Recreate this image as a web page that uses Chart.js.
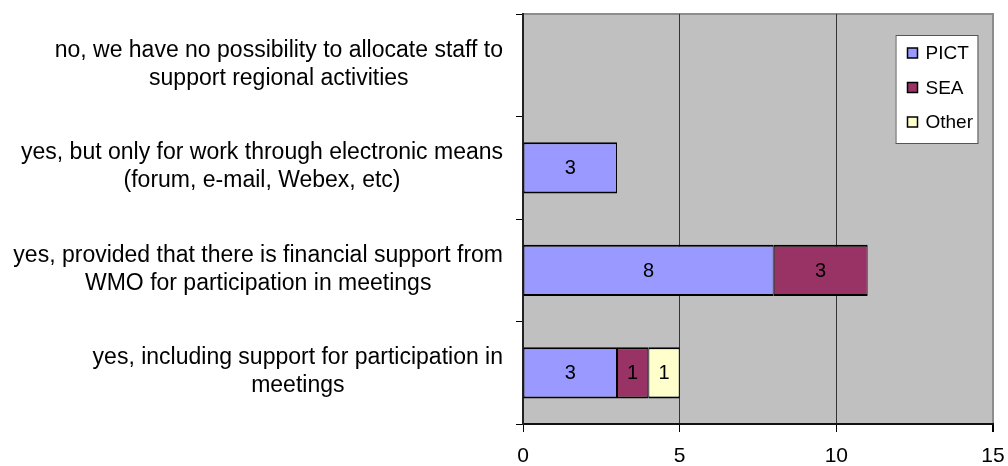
<!DOCTYPE html>
<html>
<head>
<meta charset="utf-8">
<script src="https://cdn.jsdelivr.net/npm/chart.js@4.4.1/dist/chart.umd.min.js"></script>
<style>
  body { margin: 0; background: #fff; }
  #wrap { width: 1008px; height: 466px; position: relative; }
</style>
</head>
<body>
<div id="wrap"><canvas id="staffChart"></canvas></div>
<script>
// survey answers, top to bottom
const categories = [
  ["no, we have no possibility to allocate staff to", "support regional activities"],
  ["yes, but only for work through electronic means", "(forum, e-mail, Webex, etc)"],
  ["yes, provided that there is financial support from", "WMO for participation in meetings"],
  ["yes, including support for participation in", "meetings"],
];
const pictValues = [0, 3, 8, 3];
const seaValues = [0, 0, 3, 1];
const otherValues = [0, 0, 0, 1];
const xTicks = [0, 5, 10, 15];

const FONT = '"Liberation Sans", Arial, sans-serif';

// grey plot area with a thin frame on top and right
const plotBg = {
  id: "plotBg",
  beforeDraw(chart) {
    const { ctx, chartArea: a } = chart;
    ctx.save();
    ctx.fillStyle = "#c0c0c0";
    ctx.fillRect(a.left, a.top, a.right - a.left, a.bottom - a.top);
    ctx.strokeStyle = "#8c8c8c";
    ctx.lineWidth = 2;
    ctx.beginPath();
    ctx.moveTo(a.left, a.top);
    ctx.lineTo(a.right, a.top);
    ctx.lineTo(a.right, a.bottom);
    ctx.stroke();
    ctx.restore();
  },
};

// category labels: block right aligned, lines centred inside the block
const catLabels = {
  id: "catLabels",
  afterDraw(chart) {
    const { ctx } = chart;
    const yScale = chart.scales.y;
    ctx.save();
    ctx.font = "23px " + FONT;
    ctx.fillStyle = "#000";
    ctx.textAlign = "center";
    ctx.textBaseline = "middle";
    const rightEdge = yScale.right - 20;
    const lh = 28;
    yScale.getLabels().forEach((lines, i) => {
      const y = yScale.getPixelForValue(i) - 1;
      const widest = Math.max(...lines.map((l) => ctx.measureText(l).width));
      const cx = rightEdge - widest / 2;
      lines.forEach((line, j) => {
        ctx.fillText(line, cx, y + (j - (lines.length - 1) / 2) * lh);
      });
    });
    ctx.restore();
  },
};

// values in the middle of each segment
const segLabels = {
  id: "segLabels",
  afterDatasetsDraw(chart) {
    const { ctx } = chart;
    ctx.save();
    ctx.font = "20px " + FONT;
    ctx.fillStyle = "#000";
    ctx.textAlign = "center";
    ctx.textBaseline = "middle";
    chart.data.datasets.forEach((ds, di) => {
      chart.getDatasetMeta(di).data.forEach((bar, i) => {
        const v = ds.data[i];
        if (!v) return;
        const { x, base, y } = bar.getProps(["x", "base", "y"], true);
        ctx.fillText(String(v), (x + base) / 2, y + 1);
      });
    });
    ctx.restore();
  },
};

// legend box inside the plot, top right
const boxLegend = {
  id: "boxLegend",
  afterDraw(chart) {
    const { ctx, chartArea: a } = chart;
    const left = a.right - 97.5;
    const top = a.top + 21;
    ctx.save();
    ctx.fillStyle = "#fff";
    ctx.fillRect(left, top, 82, 108);
    ctx.strokeStyle = "#555";
    ctx.lineWidth = 1;
    ctx.strokeRect(left + 0.5, top + 0.5, 82, 108);
    ctx.font = "19px " + FONT;
    ctx.textBaseline = "middle";
    ctx.textAlign = "left";
    chart.data.datasets.forEach((ds, i) => {
      const cy = top + 18 + i * 34.5;
      ctx.fillStyle = ds.backgroundColor;
      ctx.fillRect(left + 12, cy - 5, 10, 10);
      ctx.strokeStyle = "#000";
      ctx.lineWidth = 1.5;
      ctx.strokeRect(left + 12, cy - 5, 10, 10);
      ctx.fillStyle = "#000";
      ctx.fillText(ds.label, left + 30, cy + 1);
    });
    ctx.restore();
  },
};

new Chart(document.getElementById("staffChart"), {
  type: "bar",
  data: {
    labels: categories,
    datasets: [
      { label: "PICT", data: pictValues, backgroundColor: "#9999ff" },
      { label: "SEA", data: seaValues, backgroundColor: "#993366" },
      { label: "Other", data: otherValues, backgroundColor: "#ffffcc" },
    ],
  },
  options: {
    indexAxis: "y",
    responsive: true,
    maintainAspectRatio: false,
    animation: false,
    layout: { padding: { top: 14, right: 15, bottom: 0, left: 0 } },
    datasets: {
      bar: {
        borderColor: "#000",
        borderWidth: { top: 2, bottom: 2, left: 1, right: 1 },
        borderSkipped: false,
        categoryPercentage: 1,
        barPercentage: 0.5,
      },
    },
    plugins: {
      legend: { display: false },
      tooltip: { enabled: false },
    },
    scales: {
      x: {
        stacked: true,
        min: 0,
        max: 15,
        afterBuildTicks: (s) => {
          s.ticks = xTicks.map((v) => ({ value: v }));
        },
        afterFit: (s) => {
          s.height = 42;
          s.paddingRight = 0;
          s.paddingLeft = 0;
        },
        grid: {
          color: (c) => (c.tick && c.tick.value === 15 ? "#8c8c8c" : "#333"),
          lineWidth: (c) => (c.tick && c.tick.value === 15 ? 2 : 1),
          tickColor: "#000",
          tickLength: 8,
        },
        border: { color: "#111", width: 2 },
        ticks: {
          color: "#000",
          padding: 12,
          font: { family: FONT, size: 21 },
        },
      },
      y: {
        stacked: true,
        afterFit: (s) => {
          s.width = 523;
        },
        grid: {
          offset: true,
          drawOnChartArea: false,
          color: "#000",
          tickLength: 7,
        },
        border: { color: "#222", width: 2 },
        ticks: { display: false },
      },
    },
  },
  plugins: [plotBg, catLabels, segLabels, boxLegend],
});
</script>
</body>
</html>
